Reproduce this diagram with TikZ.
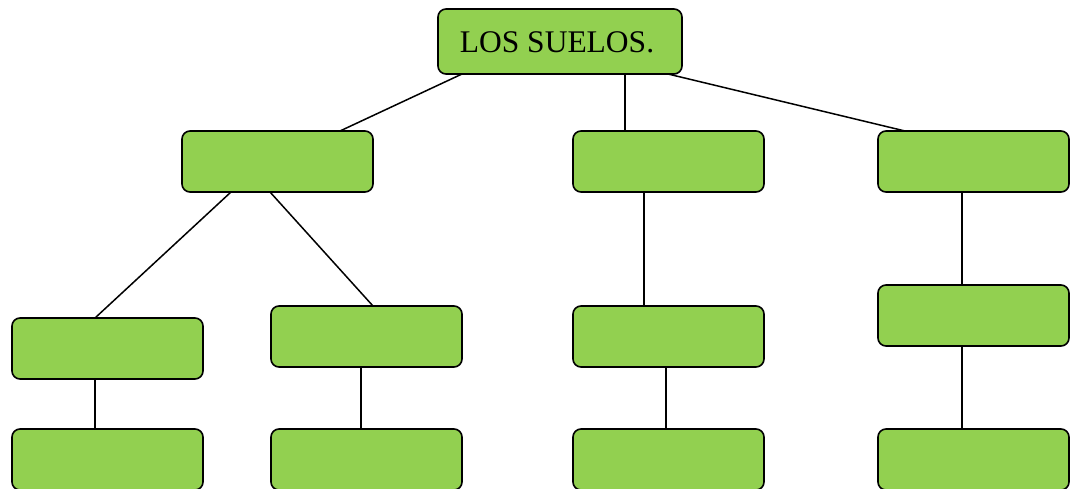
\documentclass[tikz,border=0pt]{standalone}
\usepackage{fontspec}
\setmainfont{Liberation Serif}
\definecolor{boxgreen}{HTML}{92D050}
\tikzset{
  box/.style={draw=black, fill=boxgreen, line width=1.6pt, rounded corners=8pt,
    anchor=north west, minimum width=191pt, minimum height=61pt, inner sep=0pt, outer sep=0pt},
  conn/.style={draw=black, line width=1.5pt}
}
\begin{document}
\begin{tikzpicture}[x=1pt,y=-1pt]
\useasboundingbox (0,0) rectangle (1074,488);
\node[box, minimum width=244pt, minimum height=65pt] (top) at (438,9) {};
\node[font=\fontsize{31.5}{36}\selectfont, inner sep=0pt] (toptext) at ([xshift=-3pt,yshift=-0.5pt]top.center) {LOS SUELOS.};
\node[box] (A) at (182,131) {};
\node[box] (B) at (573,131) {};
\node[box] (C) at (878,131) {};
\node[box] (A1) at (12,318) {};
\node[box] (A2) at (271,306) {};
\node[box] (B1) at (573,306) {};
\node[box] (C1) at (878,285) {};
\node[box] (A1b) at (12,429) {};
\node[box] (A2b) at (271,429) {};
\node[box] (B2) at (573,429) {};
\node[box] (C2) at (878,429) {};
\draw[conn] ([xshift=24pt]top.south west) -- ([xshift=158pt]A.north west);
\draw[conn] ([xshift=187pt]top.south west) -- ([xshift=52pt]B.north west);
\draw[conn] ([xshift=230pt]top.south west) -- ([xshift=27pt]C.north west);
\draw[conn] ([xshift=49pt]A.south west) -- ([xshift=83pt]A1.north west);
\draw[conn] ([xshift=88pt]A.south west) -- ([xshift=102pt]A2.north west);
\draw[conn] ([xshift=83pt]A1.south west) -- ([xshift=83pt]A1b.north west);
\draw[conn] ([xshift=90pt]A2.south west) -- ([xshift=90pt]A2b.north west);
\draw[conn] ([xshift=71pt]B.south west) -- ([xshift=71pt]B1.north west);
\draw[conn] ([xshift=93pt]B1.south west) -- ([xshift=93pt]B2.north west);
\draw[conn] ([xshift=84pt]C.south west) -- ([xshift=84pt]C1.north west);
\draw[conn] ([xshift=84pt]C1.south west) -- ([xshift=84pt]C2.north west);
\end{tikzpicture}
\end{document}
